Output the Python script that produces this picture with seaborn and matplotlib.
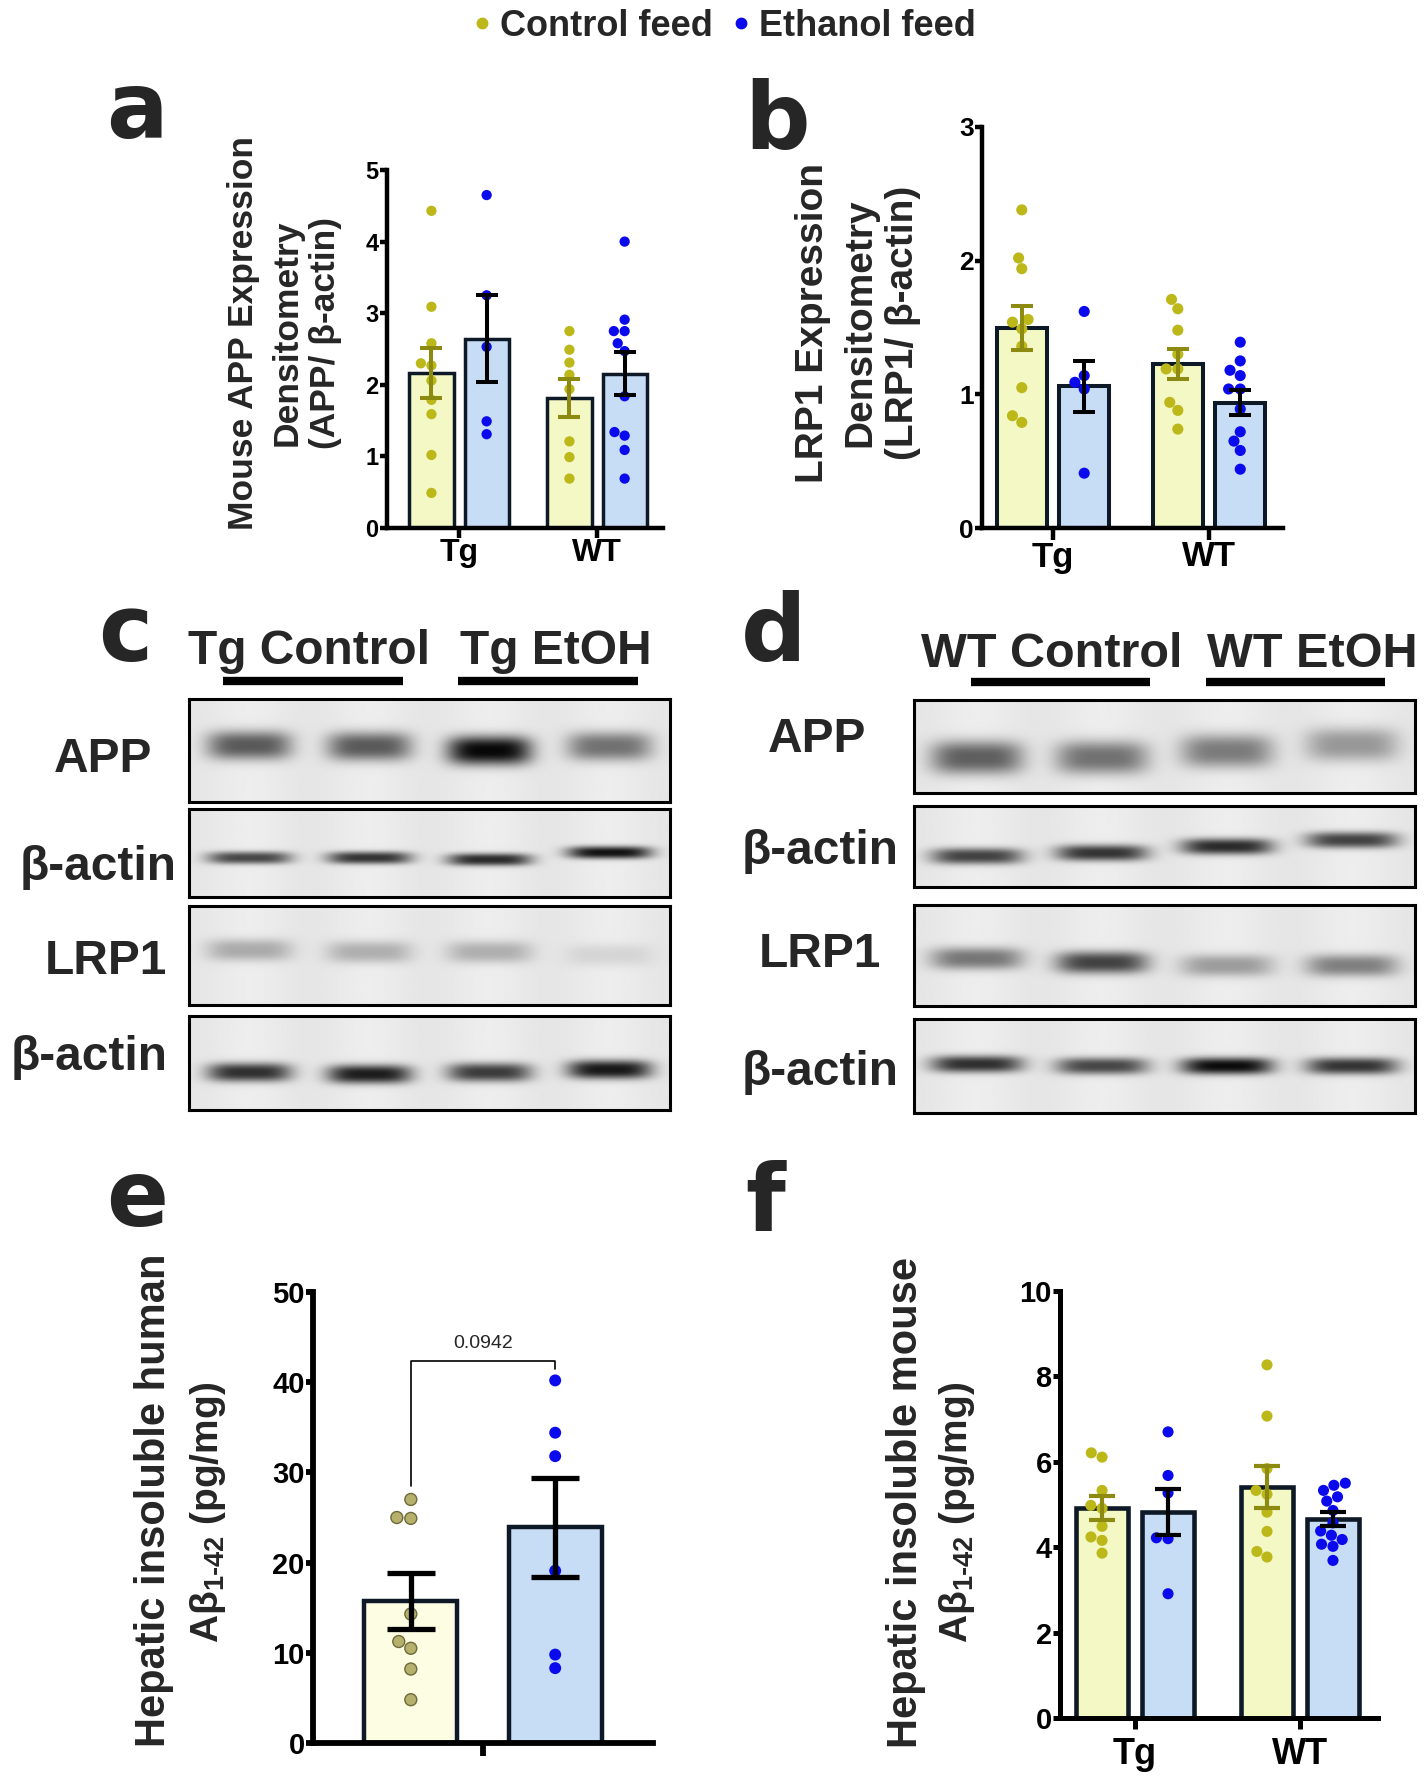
import numpy as np
import pandas as pd
import matplotlib
matplotlib.use("Agg")
import matplotlib.pyplot as plt
import matplotlib.colors as mcolors
import seaborn as sns
from matplotlib.lines import Line2D

sns.set_style("ticks")
plt.rcParams["font.family"] = ["Liberation Sans", "DejaVu Sans"]
plt.rcParams["font.weight"] = "bold"
plt.rcParams["mathtext.fontset"] = "custom"
plt.rcParams["mathtext.rm"] = "Liberation Sans:bold"
plt.rcParams["mathtext.it"] = "Liberation Sans:bold"
plt.rcParams["mathtext.bf"] = "Liberation Sans:bold"

# ---------------- data ----------------
groups = ["Tg", "WT"]
feeds = ["Control feed", "Ethanol feed"]

a_tg_ctrl = [4.43, 3.09, 2.58, 2.30, 2.27, 2.06, 1.79, 1.59, 1.02, 0.49]
a_tg_eth = [4.65, 3.25, 2.53, 1.49, 1.31]
a_wt_ctrl = [2.75, 2.49, 2.31, 2.14, 1.94, 1.21, 0.99, 0.69]
a_wt_eth = [4.00, 2.91, 2.75, 2.75, 2.58, 2.47, 1.84, 1.29, 1.34, 1.09, 0.69]

b_tg_ctrl = [2.38, 2.02, 1.94, 1.56, 1.54, 1.49, 1.36, 1.05, 0.84, 0.79]
b_tg_eth = [1.62, 1.14, 1.09, 1.04, 0.41]
b_wt_ctrl = [1.71, 1.64, 1.48, 1.30, 1.19, 1.19, 0.94, 0.88, 0.74]
b_wt_eth = [1.39, 1.25, 1.18, 1.14, 1.04, 1.04, 0.89, 0.72, 0.65, 0.58, 0.44]

e_ctrl = [27.0, 25.0, 24.9, 14.3, 11.25, 10.5, 8.2, 4.8]
e_eth = [40.2, 34.4, 31.8, 19.1, 9.8, 8.3]
e_pvalue = "0.0942"

f_tg_ctrl = [6.21, 6.11, 5.33, 4.98, 4.91, 4.49, 4.24, 4.16, 3.86]
f_tg_eth = [6.70, 5.68, 5.27, 4.22, 4.20, 2.91]
f_wt_ctrl = [8.27, 7.07, 5.84, 5.33, 5.24, 4.82, 4.37, 3.90, 3.77]
f_wt_eth = [5.50, 5.45, 5.33, 5.18, 5.08, 4.86, 4.57, 4.38, 4.28, 4.18, 4.07, 4.02, 3.69]

# western blot band darkness (0 = none, 1 = black) per lane, and band centres (fraction of box height)
c_lanes = ["Tg Control", "Tg EtOH"]
c_rows = ["APP", "β-actin", "LRP1", "β-actin"]
c_dark = [[0.62, 0.62, 0.97, 0.52],
          [0.70, 0.78, 0.82, 0.92],
          [0.28, 0.26, 0.26, 0.10],
          [0.80, 0.88, 0.75, 0.90]]
c_ypos = [[0.45, 0.46, 0.50, 0.46],
          [0.56, 0.56, 0.58, 0.50],
          [0.45, 0.47, 0.47, 0.50],
          [0.60, 0.62, 0.60, 0.57]]
c_ysig = [0.14, 0.07, 0.11, 0.10]

d_lanes = ["WT Control", "WT EtOH"]
d_rows = ["APP", "β-actin", "LRP1", "β-actin"]
d_dark = [[0.60, 0.52, 0.48, 0.36],
          [0.72, 0.78, 0.82, 0.72],
          [0.50, 0.72, 0.34, 0.46],
          [0.80, 0.70, 0.95, 0.78]]
d_ypos = [[0.62, 0.62, 0.55, 0.48],
          [0.62, 0.58, 0.50, 0.42],
          [0.53, 0.57, 0.60, 0.60],
          [0.48, 0.50, 0.50, 0.50]]
d_ysig = [0.18, 0.10, 0.11, 0.09]

# ---------------- styles ----------------
CTRL_FILL = "#f3f8c4"
ETH_FILL = "#c7dcf5"
CTRL_PT = "#bcb81a"
ETH_PT = "#0a0aec"
CTRL_ERR = "#8c8a10"
BAR_EDGE = "#0d1926"
E_CTRL_FILL = "#fdfde4"
E_CTRL_PT = "#b5b06c"

W, H = 1425, 1784
fig = plt.figure(figsize=(W / 100, H / 100), dpi=100)


def px_axes(l, t, r, b):
    return fig.add_axes([l / W, 1 - b / H, (r - l) / W, (b - t) / H])


def ftext(x, y, s, **kw):
    return fig.text(x / W, 1 - y / H, s, **kw)


def make_df(d):
    rows = []
    for (g, f), vals in d.items():
        for v in vals:
            rows.append({"group": g, "feed": f, "value": v})
    return pd.DataFrame(rows)


def bar_panel(ax, df, cats, xlim, ylim, yticks, gap, fills, pts, errc, pt_size,
              bar_lw, spine_lw, err_lw, capsize, ytick_fs, xtick_fs, xtick_len,
              ytick_len, xpad, pt_edge=None, pt_lw=0):
    sns.barplot(data=df, x="group", y="value", hue="feed", order=cats, hue_order=feeds,
                palette=fills, errorbar=None, width=0.8, gap=gap, saturation=1,
                edgecolor=BAR_EDGE, linewidth=bar_lw, legend=False, ax=ax, zorder=1)
    n_before = len(ax.collections)
    kw = {}
    if pt_edge is not None:
        kw = dict(edgecolor=pt_edge, linewidth=pt_lw)
    sns.swarmplot(data=df, x="group", y="value", hue="feed", order=cats, hue_order=feeds,
                  palette=pts, dodge=True, size=pt_size, legend=False, ax=ax, zorder=2, **kw)
    if pt_edge is not None:
        # only the control points carry an outline
        eth_rgb = np.array(mcolors.to_rgb(pts[1]))
        for coll in ax.collections[n_before:]:
            fc = coll.get_facecolors()
            if len(fc) and np.allclose(fc[0][:3], eth_rgb, atol=0.02):
                coll.set_linewidths(0)
    stats = df.groupby(["group", "feed"])["value"].agg(["mean", "sem"])
    for gi, g in enumerate(cats):
        for fi, f in enumerate(feeds):
            m, s = stats.loc[(g, f), "mean"], stats.loc[(g, f), "sem"]
            x = gi + (fi - 0.5) * 0.4
            ax.errorbar(x, m, yerr=s, color=errc[fi], lw=err_lw, capsize=capsize,
                        capthick=err_lw, zorder=4)
    ax.set_xlim(*xlim)
    ax.set_ylim(*ylim)
    ax.set_yticks(yticks)
    ax.set_xticks(range(len(cats)))
    ax.set_xlabel("")
    ax.set_ylabel("")
    sns.despine(ax=ax)
    for sp in ["left", "bottom"]:
        ax.spines[sp].set_linewidth(spine_lw)
        ax.spines[sp].set_color("black")
        ax.spines[sp].set_capstyle("projecting")
    ax.tick_params(axis="x", width=spine_lw, length=xtick_len, pad=xpad, colors="black",
                   labelsize=xtick_fs)
    ax.tick_params(axis="y", width=spine_lw, length=ytick_len, pad=1, colors="black",
                   labelsize=ytick_fs)
    ax.set_yticklabels([f"{t:g}" for t in yticks], fontsize=ytick_fs, fontweight="bold")
    ax.set_xticklabels(cats, fontsize=xtick_fs, fontweight="bold")
    ax.set_facecolor("none")


# ---------------- legend ----------------
handles = [Line2D([0], [0], marker="o", ls="", ms=7.5, mfc=CTRL_PT, mec=CTRL_PT),
           Line2D([0], [0], marker="o", ls="", ms=7.5, mfc=ETH_PT, mec=ETH_PT)]
fig.legend(handles, feeds, loc="center", bbox_to_anchor=(0.508, 1 - 26 / H), ncol=2,
           frameon=False, prop={"size": 26, "weight": "bold"}, handlelength=0.55,
           handletextpad=0.22, columnspacing=0.5, borderaxespad=0)

# ---------------- panel a ----------------
ax_a = px_axes(387, 170, 663, 528)
df_a = make_df({("Tg", feeds[0]): a_tg_ctrl, ("Tg", feeds[1]): a_tg_eth,
                ("WT", feeds[0]): a_wt_ctrl, ("WT", feeds[1]): a_wt_eth})
bar_panel(ax_a, df_a, groups, (-0.522, 1.478), (0, 5), [0, 1, 2, 3, 4, 5], 0.2,
          [CTRL_FILL, ETH_FILL], [CTRL_PT, ETH_PT], [CTRL_ERR, "black"], 7.4,
          2.5, 3.2, 2.9, 8, 17, 23, 7, 5, 0.5)
for x, s in zip([243, 287, 326], ["Mouse APP Expression", "Densitometry", "(APP/ β-actin)"]):
    ftext(x, 333, s, rotation=90, ha="center", va="center", fontsize=25.5, fontweight="bold")

# ---------------- panel b ----------------
ax_b = px_axes(982, 127, 1283, 528)
df_b = make_df({("Tg", feeds[0]): b_tg_ctrl, ("Tg", feeds[1]): b_tg_eth,
                ("WT", feeds[0]): b_wt_ctrl, ("WT", feeds[1]): b_wt_eth})
bar_panel(ax_b, df_b, groups, (-0.455, 1.474), (0, 3), [0, 1, 2, 3], 0.2,
          [CTRL_FILL, ETH_FILL], [CTRL_PT, ETH_PT], [CTRL_ERR, "black"], 8,
          2.9, 3.2, 2.9, 8, 19, 25, 8.5, 5, 0.5)
for x, s in zip([813, 860, 903], ["LRP1 Expression", "Densitometry", "(LRP1/ β-actin)"]):
    ftext(x, 323, s, rotation=90, ha="center", va="center", fontsize=28, fontweight="bold")

# ---------------- blots ----------------
def blot(ax, dark, ypos, ysig, hw=0.088, bg=0.07):
    ny, nx = 160, 480
    yy = np.linspace(0, 1, ny)[:, None]
    xx = np.linspace(0, 1, nx)[None, :]
    keep = np.ones((ny, nx))
    n = len(dark)
    for i, (dv, yc) in enumerate(zip(dark, ypos)):
        cx = (i + 0.5) / n
        prof = dv * np.exp(-((xx - cx) / hw) ** 4) * np.exp(-np.abs((yy - yc) / ysig) ** 2.6)
        keep = keep * (1 - prof)
    lane_streak = 0.015 * np.cos(2 * np.pi * n * xx) + 0.015
    img = 1 - (1 - bg - lane_streak) * keep
    ax.imshow(img, cmap="gray_r", vmin=0, vmax=1, aspect="auto", extent=(0, 1, 1, 0),
              interpolation="bilinear")
    ax.set_xticks([])
    ax.set_yticks([])
    for sp in ax.spines.values():
        sp.set_visible(True)
        sp.set_linewidth(2.2)
        sp.set_color("black")


c_boxes = [(699, 802), (809, 897), (906, 1005), (1016, 1110)]
c_label_xy = [(103, 772), (98, 880), (106, 974), (89, 1070)]
for (t, b), dark, yp, ys, (lx, ly), name in zip(c_boxes, c_dark, c_ypos, c_ysig, c_label_xy, c_rows):
    axb = px_axes(189, t, 670, b)
    blot(axb, dark, yp, ys)
    ftext(lx, ly, name, ha="center", va="baseline", fontsize=34.5, fontweight="bold")
for cx, (x0, x1), s in zip([309, 556], [(223, 403), (458, 638)], c_lanes):
    ftext(cx, 664, s, ha="center", va="baseline", fontsize=34.5, fontweight="bold")
    fig.add_artist(Line2D([x0 / W, x1 / W], [1 - 681 / H] * 2, color="black", lw=6,
                          solid_capstyle="butt"))

d_boxes = [(700, 793), (806, 887), (905, 1006), (1019, 1113)]
d_label_xy = [(817, 752), (820, 864), (820, 967), (820, 1085)]
for (t, b), dark, yp, ys, (lx, ly), name in zip(d_boxes, d_dark, d_ypos, d_ysig, d_label_xy, d_rows):
    axb = px_axes(914, t, 1415, b)
    blot(axb, dark, yp, ys, hw=0.092)
    ftext(lx, ly, name, ha="center", va="baseline", fontsize=34.5, fontweight="bold")
for cx, (x0, x1), s in zip([1052, 1312], [(971, 1150), (1206, 1385)], d_lanes):
    ftext(cx, 667, s, ha="center", va="baseline", fontsize=35, fontweight="bold")
    fig.add_artist(Line2D([x0 / W, x1 / W], [1 - 682 / H] * 2, color="black", lw=6,
                          solid_capstyle="butt"))

# ---------------- panel e ----------------
ax_e = px_axes(313, 1292, 653, 1743)
df_e = make_df({("", feeds[0]): e_ctrl, ("", feeds[1]): e_eth})
bar_panel(ax_e, df_e, [""], (-0.471, 0.471), (0, 50), [0, 10, 20, 30, 40, 50], 0.356,
          [E_CTRL_FILL, ETH_FILL], [E_CTRL_PT, ETH_PT], ["black", "black"], 8.6,
          3.2, 4.2, 3.8, 17, 21, 20, 9.6, 5, 0.5, pt_edge="#6e6a3a", pt_lw=1)
y0 = max(e_ctrl) + 1.5
ytop = max(e_eth) + 2.2
y1 = max(e_eth) + 1.3
ax_e.plot([-0.2, -0.2, 0.2, 0.2], [y0, ytop, ytop, y1], color="black", lw=1.2, zorder=5)
ax_e.text(0, ytop + 0.9, e_pvalue, ha="center", va="bottom", fontsize=14, fontweight="normal")
ftext(154, 1500, "Hepatic insoluble human", rotation=90, ha="center", va="center",
      fontsize=30, fontweight="bold")
ftext(208, 1512, r"Aβ$_{1\text{-}42}$ (pg/mg)", rotation=90, ha="center", va="center",
      fontsize=28, fontweight="bold")

# ---------------- panel f ----------------
ax_f = px_axes(1060, 1291, 1378, 1718)
df_f = make_df({("Tg", feeds[0]): f_tg_ctrl, ("Tg", feeds[1]): f_tg_eth,
                ("WT", feeds[0]): f_wt_ctrl, ("WT", feeds[1]): f_wt_eth})
bar_panel(ax_f, df_f, groups, (-0.455, 1.473), (0, 10), [0, 2, 4, 6, 8, 10], 0.21,
          [CTRL_FILL, ETH_FILL], [CTRL_PT, ETH_PT], [CTRL_ERR, "black"], 8,
          3.3, 3.6, 3.0, 9.4, 21, 26, 8, 5, 6)
ftext(906, 1502, "Hepatic insoluble mouse", rotation=90, ha="center", va="center",
      fontsize=30, fontweight="bold")
ftext(957, 1512, r"Aβ$_{1\text{-}42}$ (pg/mg)", rotation=90, ha="center", va="center",
      fontsize=28, fontweight="bold")

# ---------------- panel letters ----------------
for s, x, y in [("a", 106, 138), ("b", 744, 149), ("c", 98, 661), ("d", 741, 661),
                ("e", 106, 1226), ("f", 745, 1231)]:
    ftext(x, y, s, ha="left", va="baseline", fontsize=66, fontweight="bold",
          family=["DejaVu Sans"])

fig.savefig("out.png", dpi=100)
